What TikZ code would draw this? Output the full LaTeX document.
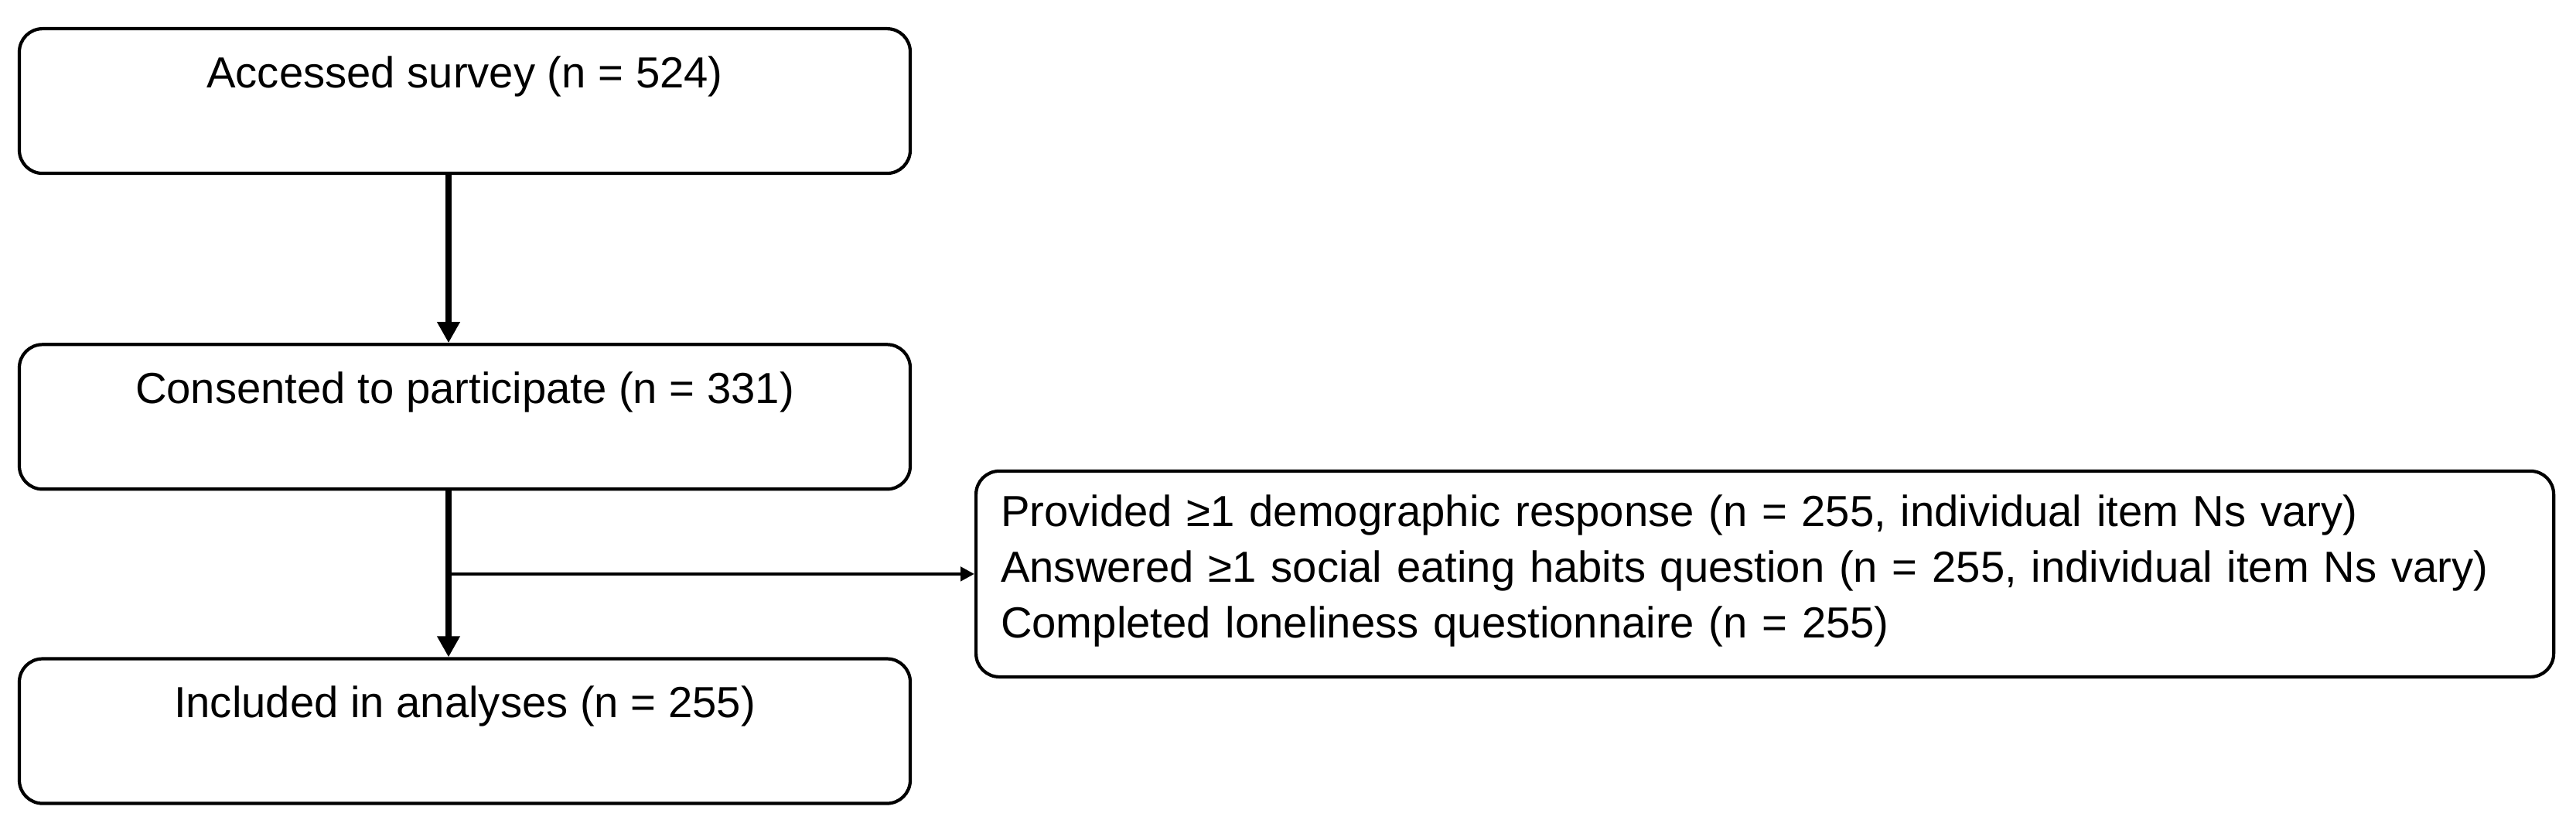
\documentclass[tikz,border=0pt]{standalone}
\usepackage{fontspec}
\setmainfont{Liberation Sans}
\usetikzlibrary{arrows.meta, positioning, calc}
\newcommand{\flowfont}{\fontsize{16pt}{20.4pt}\selectfont}

\begin{document}
\begin{tikzpicture}[
    stage/.style={draw, line width=1.2pt, rounded corners=0.3cm,
                  minimum width=11.52cm, inner xsep=0pt, inner ysep=0pt,
                  text height=0.76cm, text depth=1.11cm, font=\flowfont},
    excl/.style={draw, line width=1.2pt, rounded corners=0.3cm,
                 text width=19.76cm, inner xsep=0.32cm, inner ysep=0pt,
                 text height=0.72cm, text depth=1.94cm, align=left, font=\flowfont},
    flow/.style={line width=2.3pt, -{Triangle[length=0.27cm, width=0.28cm]}},
    side/.style={line width=1.3pt, -{Triangle[length=0.18cm, width=0.18cm]}}
  ]
    \useasboundingbox (0,0) rectangle (33.31,-10.69);

    % main column
    \node[stage, anchor=north] (access) at (6.01,-0.35) {Accessed survey (n = 524)};
    \node[stage, below=2.17cm of access] (consent) {Consented to participate (n = 331)};
    \node[stage, below=2.15cm of consent] (included) {Included in analyses (n = 255)};

    \coordinate (trunk) at (5.80,0);
    \coordinate (split) at ($(consent.south -| trunk)!0.5!(included.north -| trunk)$);

    % side box
    \node[excl, right=6.8cm of split] (excl) {%
      Provided ≥1 demographic response (n = 255, individual item Ns vary)\\
      Answered ≥1 social eating habits question (n = 255, individual item Ns vary)\\
      Completed loneliness questionnaire (n = 255)};

    \draw[flow] (access.south -| trunk) -- (consent.north -| trunk);
    \draw[flow] (consent.south -| trunk) -- (included.north -| trunk);
    \draw[side] (split) -- (excl.west);
\end{tikzpicture}
\end{document}
